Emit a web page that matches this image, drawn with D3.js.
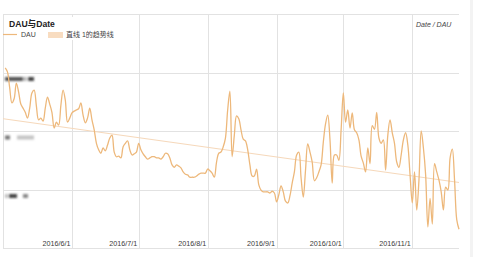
<!doctype html>
<html lang="zh">
<head>
<meta charset="utf-8" />
<title>DAU与Date</title>
<script src="https://cdn.jsdelivr.net/npm/d3@7/dist/d3.min.js"></script>
<style>
  html, body { margin: 0; padding: 0; background: #fff; }
  svg { display: block; font-family: "Liberation Sans", Arial, "Noto Sans CJK SC", sans-serif; }
  .grid { stroke: #e2e2e2; stroke-width: 1; shape-rendering: crispEdges; }
  .tick-label { font-size: 7.2px; fill: #3a3a3a; text-anchor: end; }
</style>
</head>
<body>
<svg id="chart" width="477" height="257"></svg>
<script>
// daily DAU, starting at START_DATE (one value per day)
const START_DATE = '2016-05-02';
const DAU = [
  3080, 3010, 2740, 2480, 2550, 2820, 2670, 2460, 2390, 2320,
  2220, 2390, 2650, 2700, 2430, 2190, 2220, 2170, 2390, 2580,
  2460, 2320, 2050, 2150, 2100, 2430, 2700, 2530, 2150, 2220,
  2310, 2340, 2360, 2380, 2480, 2270, 2140, 2220, 2390, 2190,
  2020, 1790, 1680, 1620, 1710, 1660, 1760, 1880, 1930, 1640,
  1560, 1570, 1540, 1730, 1790, 1830, 1680, 1590, 1610, 1640,
  1790, 1680, 1610, 1560, 1520, 1540, 1560, 1560, 1540, 1540,
  1520, 1560, 1620, 1610, 1540, 1420, 1380, 1420, 1400, 1370,
  1300, 1260, 1250, 1210, 1210, 1210, 1230, 1260, 1280, 1280,
  1280, 1350, 1320, 1280, 1210, 1470, 1620, 1640, 1730, 1880,
  2360, 2680, 1560, 1930, 2260, 2210, 2020, 1860, 1830, 1680,
  1420, 1230, 1230, 1350, 1080, 990, 960, 960, 960, 940,
  970, 940, 790, 910, 1060, 960, 800, 770, 890, 1110,
  1300, 1590, 1640, 1200, 870, 1330, 1780, 1640, 1470, 1150,
  1200, 1300, 1420, 1810, 2120, 2270, 1850, 1110, 1590, 1590,
  1500, 2020, 2650, 2150, 2360, 2050, 2310, 2020, 1970, 1850,
  1570, 1450, 1300, 1710, 1440, 2090, 2030, 2320, 1880, 1790,
  1850, 1330, 1930, 2190, 1970, 1790, 1470, 1380, 1590, 1850,
  1970, 1760, 1250, 770, 1300, 650, 1160, 2000, 1710, 1250,
  360, 850, 410, 1440, 1300, 1160, 960, 650, 1040, 990,
  1540, 1690, 1160, 480, 320
];
const X_DOMAIN = ['2016-05-01', '2016-11-22'];
const MONTH_TICKS = ['2016-06-01', '2016-07-01', '2016-08-01', '2016-09-01', '2016-10-01', '2016-11-01'];
const MONTH_LABELS = ['2016/6/1', '2016/7/1', '2016/8/1', '2016/9/1', '2016/10/1', '2016/11/1'];
const Y_DOMAIN = [0, 4000];
const Y_TICKS = [1000, 2000, 3000];
const TREND_DATES = ['2016-05-01', '2016-11-22'];
const TREND_VALUES = [2210, 1120];

const parse = d3.timeParse('%Y-%m-%d');
const start = parse(START_DATE);
const series = DAU.map((v, i) => ({ date: d3.timeDay.offset(start, i), value: v }));

const svg = d3.select('#chart');
const L = 3, R = 459, T = 14, B = 248;

const x = d3.scaleTime().domain(X_DOMAIN.map(parse)).range([L, R]);
const y = d3.scaleLinear().domain(Y_DOMAIN).range([B, T]);

// faint page edge on the right
svg.append('rect').attr('x', 470).attr('y', 0).attr('width', 3).attr('height', 257).attr('fill', '#f3f3f3');

// horizontal grid + frame
svg.append('g').selectAll('line').data([...Y_TICKS, ...Y_DOMAIN]).join('line')
  .attr('class', 'grid')
  .attr('x1', L).attr('x2', R)
  .attr('y1', d => Math.round(y(d)) + 0.5).attr('y2', d => Math.round(y(d)) + 0.5);

svg.append('line').attr('class', 'grid')
  .attr('x1', L + 0.5).attr('x2', L + 0.5).attr('y1', T).attr('y2', B);

// vertical month grid
svg.append('g').selectAll('line').data(MONTH_TICKS.map(parse)).join('line')
  .attr('class', 'grid')
  .attr('x1', d => Math.round(x(d)) + 0.5).attr('x2', d => Math.round(x(d)) + 0.5)
  .attr('y1', T).attr('y2', B);

// month labels, right aligned against the grid line
svg.append('g').selectAll('text').data(MONTH_TICKS).join('text')
  .attr('class', 'tick-label')
  .attr('x', d => x(parse(d)) - 1.5)
  .attr('y', B - 2.5)
  .text((d, i) => MONTH_LABELS[i]);

// blurred (redacted) y-axis labels
const defs = svg.append('defs');
defs.append('filter').attr('id', 'blur').attr('x', '-20%').attr('y', '-80%').attr('width', '140%').attr('height', '260%')
  .append('feGaussianBlur').attr('stdDeviation', 0.9);
const blobs = svg.append('g').attr('filter', 'url(#blur)');
const blobSpec = {
  3000: [[5, 18, '#555'], [23, 4, '#bbb'], [28, 6, '#444']],
  2000: [[5, 5, '#777'], [17, 17, '#c4c4c4']],
  1000: [[5, 3, '#bbb'], [9, 8, '#444'], [23, 5, '#888']]
};
Y_TICKS.forEach(t => {
  blobSpec[t].forEach(([bx, bw, c]) => {
    blobs.append('rect').attr('x', bx).attr('y', y(t) + 4.5).attr('width', bw).attr('height', 4).attr('fill', c);
  });
});

// trend line
svg.append('path')
  .datum(TREND_DATES.map((d, i) => ({ date: parse(d), value: TREND_VALUES[i] })))
  .attr('fill', 'none').attr('stroke', '#f6d8ba').attr('stroke-width', 1)
  .attr('d', d3.line().x(d => x(d.date)).y(d => y(d.value)));

// DAU line
svg.append('path')
  .datum(series)
  .attr('fill', 'none').attr('stroke', '#edb87b').attr('stroke-width', 1.3)
  .attr('stroke-linejoin', 'round')
  .attr('d', d3.line().curve(d3.curveCatmullRom.alpha(0.5)).x(d => x(d.date)).y(d => y(d.value)));

// title + legend box
svg.append('rect').attr('x', L + 1).attr('y', 17).attr('width', 112).attr('height', 23).attr('fill', '#fff');
svg.append('text').attr('x', 9).attr('y', 27).attr('font-size', 8.6).attr('font-weight', 'bold').attr('fill', '#222')
  .text('DAU与Date');
svg.append('line').attr('x1', 3).attr('x2', 17).attr('y1', 34.5).attr('y2', 34.5)
  .attr('stroke', '#edb87b').attr('stroke-width', 1.2);
svg.append('text').attr('x', 21).attr('y', 37).attr('font-size', 7).attr('fill', '#444').text('DAU');
svg.append('rect').attr('x', 48).attr('y', 32).attr('width', 15).attr('height', 6).attr('fill', '#f8dcc0');
svg.append('text').attr('x', 66).attr('y', 37).attr('font-size', 7).attr('fill', '#444').text('直线 1的趋势线');

svg.append('text').attr('x', 416).attr('y', 27).attr('font-size', 7).attr('font-style', 'italic').attr('fill', '#444')
  .text('Date / DAU');
</script>
</body>
</html>
